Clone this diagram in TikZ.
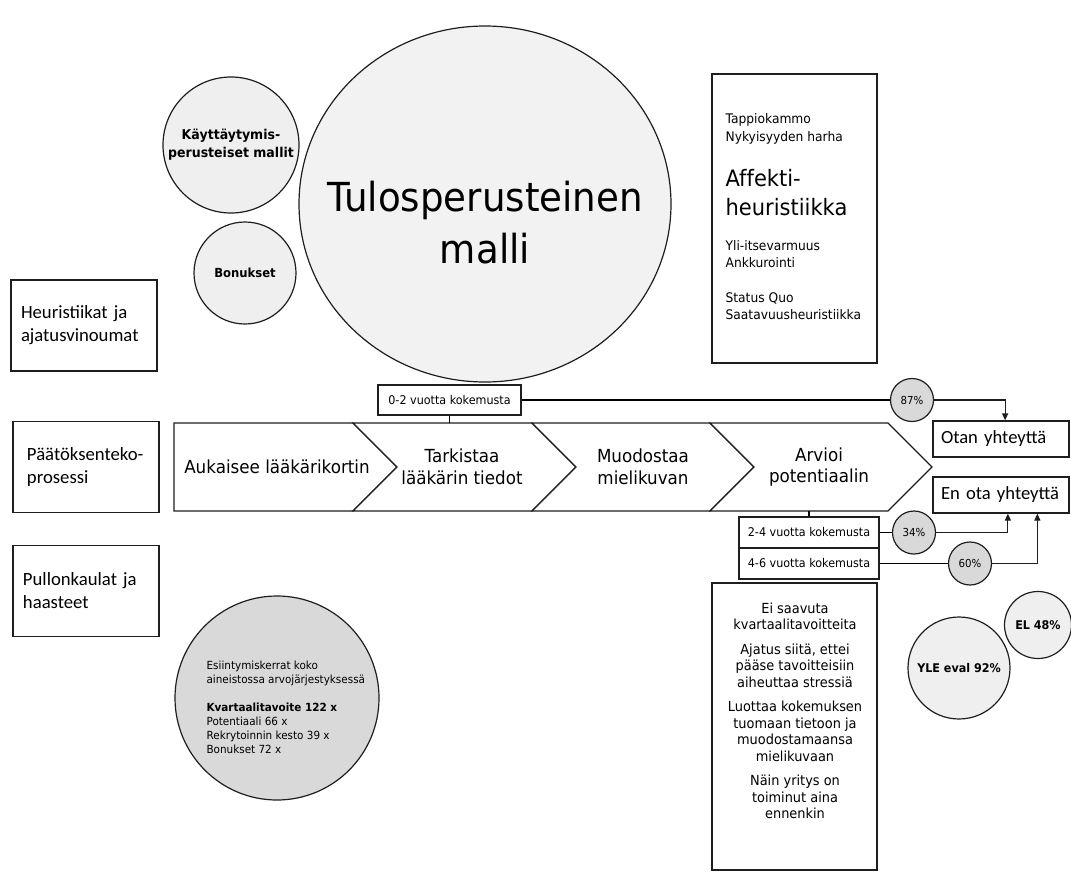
\documentclass[tikz,border=0pt]{standalone}
\usepackage{fontspec}
\setmainfont{DejaVu Sans}[FakeStretch=0.93,Ligatures=NoCommon]
\newfontfamily\lblfont{Carlito}
\usepackage{xcolor}
\definecolor{cLine}{HTML}{1E1E1E}
\definecolor{cPale}{HTML}{F2F2F2}
\definecolor{cSoft}{HTML}{EFEFEF}
\definecolor{cGray}{HTML}{D9D9D9}
\usetikzlibrary{positioning,arrows.meta,calc,shapes.geometric}
\newcommand\setfs[2]{\fontsize{#1}{#2}\selectfont}
\tikzset{
  box-plain/.style={draw=cLine,fill=white,inner sep=0},
  box-label/.style={draw=cLine,minimum width=146,minimum height=91,
    text width=126,inner xsep=10,align=left,font=\lblfont\setfs{18.7}{23}},
  box-choice/.style={draw=cLine,minimum width=136,minimum height=36,
    text width=120,inner xsep=8,align=left,font=\lblfont\setfs{18.6}{22}},
  box-exp/.style={draw=cLine,fill=white,minimum width=143,minimum height=30,
    inner sep=0,font=\setfs{12}{14}},
  circle-soft/.style={draw=cLine,circle,fill=cSoft,inner sep=0,align=center,
    font=\bfseries\setfs{12}{18}},
  circle-pct/.style={draw=cLine,circle,fill=cGray,minimum size=43,inner sep=0,
    font=\setfs{11}{13}},
  text-step/.style={align=center,inner sep=0,font=\setfs{18}{21.5}},
  text-heur/.style={align=left,inner sep=0,font=\setfs{13.2}{17.5}},
  chevron/.style={draw=cLine,fill=white},
  arrow/.style={-{Triangle[length=7pt,width=6pt]},draw=cLine},
}

\begin{document}
\begin{tikzpicture}[x=1pt,y=-1pt,line width=1.2pt]
  \useasboundingbox (0,0) rectangle (1071,873);

  % ylarivi: mallit
  \node[draw=cLine,ellipse,fill=cPale,minimum width=372,minimum height=356,
    inner sep=0] (tulos) at (485,204) {};
  \node[align=center,inner sep=0,font=\setfs{40}{52}] (tulostxt) at (485,223)
    {Tulosperusteinen\\malli};
  \node[circle-soft,minimum size=136,font=\bfseries\setfs{13.5}{18}] (kayt) at (231,145)
    {Käyttäytymis-\\perusteiset mallit};
  \node[circle-soft,minimum size=102,font=\bfseries\setfs{12.5}{18}] (bonus) at (245,273) {Bonukset};

  \node[box-plain,minimum width=165,minimum height=289] (heurbox) at (794.5,218.5) {};
  \node[text-heur,anchor=west] (heur1) at (725,129) {Tappiokammo\\Nykyisyyden harha};
  \node[text-heur,anchor=west,font=\setfs{22.6}{29}] (heur2) at (725,192.5) {Affekti-\\heuristiikka};
  \node[text-heur,anchor=west] (heur3) at (725,254) {Yli-itsevarmuus\\Ankkurointi};
  \node[text-heur,anchor=west] (heur4) at (725,306) {Status Quo\\Saatavuusheuristiikka};

  % vasen sarake
  \node[box-label] (lblheur) at (84,325.5) {Heuristiikat ja\\ajatusvinoumat};
  \node[box-label,inner xsep=14,text width=118] (lblproc) at (86,467) {Päätöksenteko-\\prosessi};
  \node[box-label] (lblpull) at (86,591) {Pullonkaulat ja\\haasteet};

  % prosessi
  \draw[chevron] (174,423) -- (353,423) -- (397,467) -- (353,511) -- (174,511) -- cycle;
  \foreach \s/\e in {353/532,532/710,710/888}
    \draw[chevron] (\s,423) -- (\e,423) -- (\e+44,467) -- (\e,511) -- (\s,511)
      -- (\s+44,467) -- cycle;
  \node[text-step] (open)  at (277,467) {Aukaisee lääkärikortin};
  \node[text-step] (check) at (462,467) {Tarkistaa\\lääkärin tiedot};
  \node[text-step] (image) at (643,467) {Muodostaa\\mielikuvan};
  \node[text-step] (rate)  at (819,467) {Arvioi\\potentiaalin};
  \coordinate (chevtop) at (449.5,423);
  \coordinate (chevbot) at (809,511);

  \node[box-choice] (otan)  at (1001,439) {Otan yhteyttä};
  \node[box-choice] (enota) at (1001,495) {En ota yhteyttä};

  \node[box-exp] (exp02) at (449.5,400) {0-2 vuotta kokemusta};
  \node[box-exp,minimum width=140,minimum height=31] (exp24) at (809,532.5) {2-4 vuotta kokemusta};
  \node[box-exp,minimum width=140,minimum height=31] (exp46) at (809,563.5) {4-6 vuotta kokemusta};
  \node[circle-pct] (p87) at (912,400)   {87\%};
  \node[circle-pct] (p34) at (914,532.5) {34\%};
  \node[circle-pct] (p60) at (970,563.5) {60\%};

  \draw (exp02.south) -- (chevtop);
  \draw (exp24.north) -- (chevbot);
  \draw (exp02.east) -- (p87.west);
  \draw[arrow] (p87.east) -| ($(otan.north west)!0.53!(otan.north east)$);
  \draw (exp24.east) -- (p34.west);
  \draw[arrow] (p34.east) -| ($(enota.south west)!0.55!(enota.south east)$);
  \draw (exp46.east) -- (p60.west);
  \draw[arrow] (p60.east) -| ($(enota.south west)!0.765!(enota.south east)$);

  % pullonkaulat
  \node[draw=cLine,circle,fill=cGray,minimum size=204,inner sep=0] (freq) at (277,698) {};
  \node[align=left,inner sep=0,anchor=west,font=\setfs{11.2}{14}] (freqtxt) at (206,707.5)
    {Esiintymiskerrat koko\\aineistossa arvojärjestyksessä\\[14pt]%
     \textbf{Kvartaalitavoite 122 x}\\Potentiaali 66 x\\Rekrytoinnin kesto 39 x\\Bonukset 72 x};

  \node[box-plain,minimum width=165,minimum height=287] (pullbox) at (794.5,726.5) {};
  \node[align=center,inner sep=0,font=\setfs{13.9}{16.5}] (pulltxt) at (795,711)
    {Ei saavuta\\kvartaalitavoitteita\\[8pt]%
     Ajatus siitä, ettei\\pääse tavoitteisiin\\aiheuttaa stressiä\\[8pt]%
     Luottaa kokemuksen\\tuomaan tietoon ja\\muodostamaansa\\mielikuvaan\\[8pt]%
     Näin yritys on\\toiminut aina\\ennenkin};

  \node[circle-soft,minimum size=102] (yle) at (959,668) {YLE eval 92\%};
  \node[circle-soft,minimum size=67]  (el)  at (1038,625) {EL 48\%};
\end{tikzpicture}
\end{document}
